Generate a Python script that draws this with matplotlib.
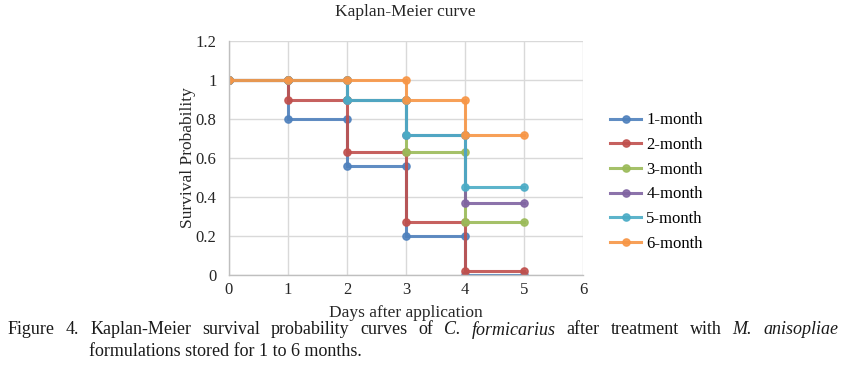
import matplotlib
matplotlib.use("Agg")
import matplotlib.pyplot as plt

plt.rcParams['font.family'] = ['Liberation Serif', 'DejaVu Serif']

labels = ["1-month", "2-month", "3-month", "4-month", "5-month", "6-month"]
colors = ["#4F81BD", "#C0504D", "#9BBB59", "#8064A2", "#4BACC6", "#F79646"]

x_1 = [0, 1, 1, 2, 2, 3, 3, 4, 4, 5]
y_1 = [1, 1, 0.8, 0.8, 0.56, 0.56, 0.2, 0.2, 0.0, 0.0]
x_2 = [0, 1, 1, 2, 2, 3, 3, 4, 4, 5]
y_2 = [1, 1, 0.9, 0.9, 0.63, 0.63, 0.27, 0.27, 0.02, 0.02]
x_3 = [0, 1, 2, 2, 3, 3, 4, 4, 5]
y_3 = [1, 1, 1, 0.9, 0.9, 0.63, 0.63, 0.27, 0.27]
x_4 = [0, 1, 2, 2, 3, 3, 4, 4, 5]
y_4 = [1, 1, 1, 0.9, 0.9, 0.72, 0.72, 0.37, 0.37]
x_5 = [0, 1, 2, 2, 3, 3, 4, 4, 5]
y_5 = [1, 1, 1, 0.9, 0.9, 0.72, 0.72, 0.45, 0.45]
x_6 = [0, 1, 2, 3, 3, 4, 4, 5]
y_6 = [1, 1, 1, 1, 0.9, 0.9, 0.72, 0.72]

xs = [x_1, x_2, x_3, x_4, x_5, x_6]
ys = [y_1, y_2, y_3, y_4, y_5, y_6]

x_ticks = [0, 1, 2, 3, 4, 5, 6]
y_ticks = [0, 0.2, 0.4, 0.6, 0.8, 1.0, 1.2]
y_ticklabels = ["0", "0.2", "0.4", "0.6", "0.8", "1", "1.2"]

caption_words = [("Figure", False), ("4.", False), ("Kaplan-Meier", False),
                 ("survival", False), ("probability", False), ("curves", False),
                 ("of", False), ("C.", True), ("formicarius", True), ("after", False),
                 ("treatment", False), ("with", False), ("M.", True), ("anisopliae", True)]
caption_line2 = "formulations stored for 1 to 6 months."

W, H = 845, 372
fig = plt.figure(figsize=(W / 100, H / 100), dpi=100)
ax = fig.add_axes([229 / W, (H - 275) / H, 354 / W, 234 / H])

for x, y, c, lab in zip(xs, ys, colors, labels):
    ax.plot(x, y, color=c, lw=2.2, marker='o', ms=5.2, alpha=0.9, label=lab,
            solid_joinstyle='miter')

ax.set_xlim(0, 6)
ax.set_ylim(0, 1.2)
ax.set_xticks(x_ticks)
ax.set_yticks(y_ticks)
ax.set_yticklabels(y_ticklabels)
ax.grid(True, color='#D9D9D9', lw=1)
ax.set_axisbelow(True)
for s in ['top', 'right']:
    ax.spines[s].set_visible(False)
for s in ['left', 'bottom']:
    ax.spines[s].set_color('#BFBFBF')
    ax.spines[s].set_linewidth(1)
ax.tick_params(axis='x', length=0, labelsize=12, colors='#262626', pad=5)
ax.tick_params(axis='y', length=0, labelsize=12, colors='#262626', pad=9)

ax.set_xlabel("Days after application", fontsize=12.5, color='#262626', labelpad=5)
ax.set_ylabel("Survival Probability", fontsize=12.5, color='#262626', labelpad=0)
fig.text(405 / W, 1 - 12 / H, "Kaplan-Meier curve", ha='center', va='center',
         fontsize=12.5, color='#262626')

ax.legend(loc='center left', bbox_to_anchor=((603 - 229) / 354, (275 - 182) / 234),
          frameon=False, fontsize=12, handlelength=1.9, handletextpad=0.3,
          labelspacing=0.52, borderaxespad=0)

# justified caption line 1
cap_size = 13
x0, x1 = 8, 838
y_cap = 1 - 330 / H
texts = []
for w, it in caption_words:
    t = fig.text(0, y_cap, w, ha='left', va='center', fontsize=cap_size,
                 style='italic' if it else 'normal', color='#1a1a1a')
    texts.append(t)
fig.canvas.draw()
r = fig.canvas.get_renderer()
widths = [t.get_window_extent(r).width for t in texts]
gap = (x1 - x0 - sum(widths)) / (len(texts) - 1)
pos = x0
for t, wd in zip(texts, widths):
    t.set_x(pos / W)
    pos += wd + gap

fig.text(89 / W, 1 - 351 / H, caption_line2,
         ha='left', va='center', fontsize=cap_size, color='#1a1a1a')

fig.savefig("out.png", dpi=100)
